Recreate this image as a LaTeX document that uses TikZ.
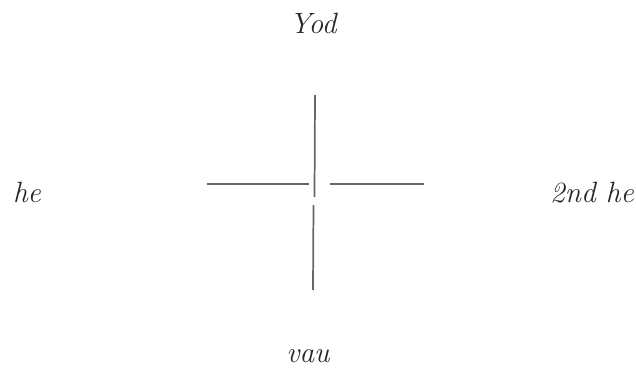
\documentclass[tikz,border=0pt]{standalone}
\begin{document}
\begin{tikzpicture}[x=0.75pt,y=-0.75pt,
  lbl/.style={anchor=base,inner sep=0pt,font=\fontsize{22}{26}\selectfont\itshape,text=black!85},
  bar/.style={draw=black!60,line width=1.3pt}]
\useasboundingbox (0,0) rectangle (636,368);
\node[lbl] (yod) at (313,33) {Yod};
\node[lbl] (he) at (27,202) {he};
\node[lbl] (he2) at (592,202) {2nd he};
\node[lbl] (vau) at (308,362) {vau};
\coordinate (vt) at (315,95);
\coordinate (vm) at (314.5,197);
\coordinate (vm2) at (313.5,205);
\coordinate (vb) at (313,290);
\coordinate (hl1) at (207,184);
\coordinate (hl2) at (309,184);
\coordinate (hr1) at (330,184);
\coordinate (hr2) at (424,184);
\draw[bar] (vt) -- (vm);
\draw[bar] (vm2) -- (vb);
\draw[bar] (hl1) -- (hl2);
\draw[bar] (hr1) -- (hr2);
\end{tikzpicture}
\end{document}
